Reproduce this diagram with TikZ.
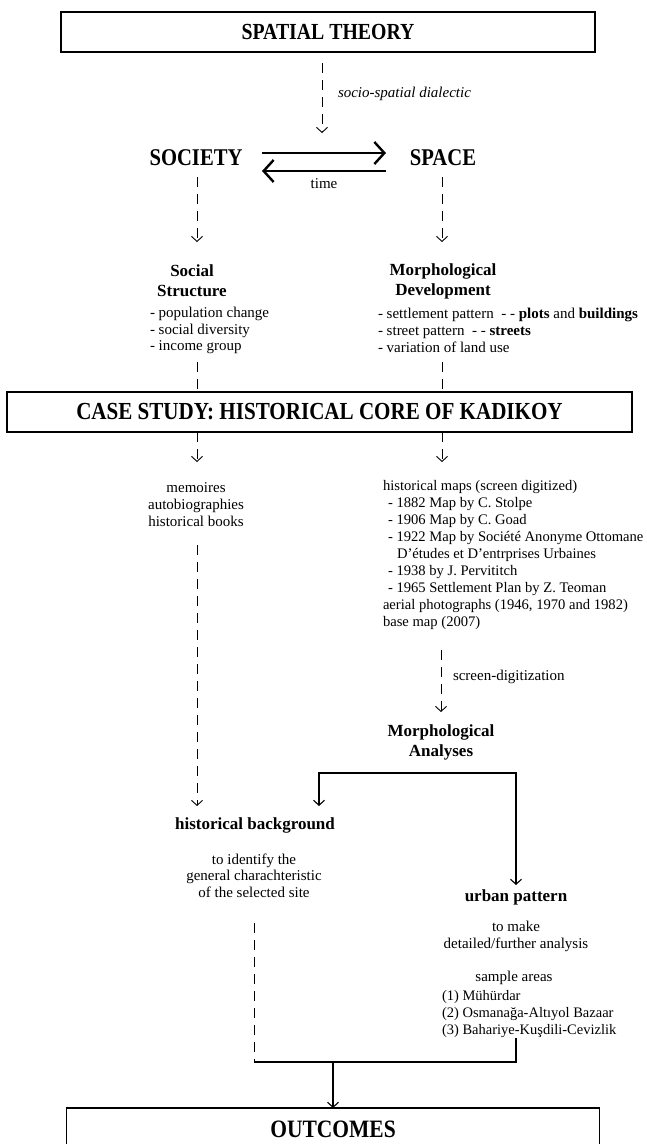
\documentclass[tikz,border=0pt]{standalone}
\usepackage{fontspec}
\setmainfont{Liberation Serif}
\newfontfamily\headfont[FakeStretch=0.86]{Liberation Serif}
\usetikzlibrary{arrows.meta}
\begin{document}
\begin{tikzpicture}[x=1pt,y=-1pt,
  every node/.style={inner sep=0pt, outer sep=0pt},
  big/.style={font=\headfont\bfseries\fontsize{24}{28}\selectfont},
  titlebox/.style={draw, line width=1.6pt, minimum height=40pt, font=\headfont\bfseries\fontsize{23}{28}\selectfont},
  sub/.style={font=\bfseries\fontsize{17}{20}\selectfont, align=center},
  txt/.style={font=\fontsize{15}{16.7}\selectfont},
  dashln/.style={line width=0.9pt, dash pattern=on 10pt off 7pt},
  dasharr/.style={dashln, -{Straight Barb[length=5pt,width=11pt]}},
  solidln/.style={line width=1.1pt},
  solidarr/.style={solidln, -{Straight Barb[length=5pt,width=11pt]}},
  thickarr/.style={line width=2.4pt, -{Straight Barb[length=10pt,width=22pt]}}
]
\useasboundingbox (0,0) rectangle (646,1144);
\clip (0,0) rectangle (646,1144);

% boxes
\node[titlebox, minimum width=534pt] (spatial) at (328,32) {SPATIAL THEORY};
\node[titlebox, minimum width=625pt, font=\headfont\bfseries\fontsize{24.5}{28}\selectfont] (case) at (319.5,412) {CASE STUDY: HISTORICAL CORE OF KADIKOY};
\node[titlebox, minimum width=533pt, minimum height=42pt, font=\headfont\bfseries\fontsize{25}{28}\selectfont] (outcomes) at (333,1129) {OUTCOMES};

% top level
\node[txt, font=\itshape\fontsize{15}{16.7}\selectfont, anchor=west] (dialectic) at (338,94) {socio-spatial dialectic};
\node[big] (society) at (196,158) {SOCIETY};
\node[big] (space) at (443,158) {SPACE};
\node[txt] (time) at (324,184) {time};

\node[sub] (social) at (192,281) {Social\\Structure};
\node[txt, align=left, anchor=west] (soclist) at (150,330.5) {- population change\\- social diversity\\- income group};
\node[sub] (morph) at (443,281) {Morphological\\Development};
\node[txt, align=left, anchor=west] (morphlist) at (378,330.5) {- settlement pattern\ \ - - \textbf{plots} and \textbf{buildings}\\- street pattern\ \ - - \textbf{streets}\\- variation of land use};

% sources
\node[txt, align=center] (sources) at (196,504.5) {memoires\\autobiographies\\historical books};
\node[txt, align=left, anchor=west, font=\fontsize{14.6}{17}\selectfont] (maps) at (383,555) {historical maps (screen digitized)\\
\hspace*{5pt}- 1882 Map by C. Stolpe\\
\hspace*{5pt}- 1906 Map by C. Goad\\
\hspace*{5pt}- 1922 Map by Société Anonyme Ottomane\\
\hspace*{14pt}D'études et D'entrprises Urbaines\\
\hspace*{5pt}- 1938 by J. Pervititch\\
\hspace*{5pt}- 1965 Settlement Plan by Z. Teoman\\
aerial photographs (1946, 1970 and 1982)\\
base map (2007)};
\node[txt, anchor=west] (digit) at (453,677) {screen-digitization};
\node[sub] (morphan) at (441,742) {Morphological\\Analyses};

% lower
\node[sub] (histbg) at (255,825) {historical background};
\node[txt, align=center] (histtxt) at (254,875.5) {to identify the\\general charachteristic\\of the selected site};
\node[sub] (urban) at (516,897) {urban pattern};
\node[txt, align=center] (urbantxt) at (516,936.5) {to make\\detailed/further analysis};
\node[txt] (sample) at (514,978) {sample areas};
\node[txt, align=left, anchor=west, font=\fontsize{14.5}{16.7}\selectfont] (samplelist) at (442,1014) {(1) Mühürdar\\(2) Osmanağa-Altıyol Bazaar\\(3) Bahariye-Kuşdili-Cevizlik};

% coordinates for free ends
\coordinate (d1s) at (322,63);
\coordinate (d1e) at (322,133);
\coordinate (t1s) at (262,153);
\coordinate (t1e) at (386,153);
\coordinate (t2s) at (386,171);
\coordinate (t2e) at (262,171);
\coordinate (s1s) at (197,177);
\coordinate (s1e) at (197,242);
\coordinate (s2s) at (442,177);
\coordinate (s2e) at (442,242);
\coordinate (c1) at (197,362);
\coordinate (c2) at (442,362);
\coordinate (c3e) at (197,462);
\coordinate (c4e) at (442,462);
\coordinate (l1s) at (197,545);
\coordinate (l1e) at (197,806);
\coordinate (r1s) at (441,650);
\coordinate (r1e) at (441,712);
\coordinate (ba) at (319,806);
\coordinate (bl) at (319,773);
\coordinate (br) at (516,773);
\coordinate (bb) at (516,885);
\coordinate (hd) at (254,923);
\coordinate (jl) at (254,1062);
\coordinate (jr) at (516,1062);
\coordinate (ud) at (516,1038);
\coordinate (jm) at (333,1062);

% connectors
\draw[dasharr] (d1s) -- (d1e);
\draw[thickarr] (t1s) -- (t1e);
\draw[thickarr] (t2s) -- (t2e);
\draw[dasharr] (s1s) -- (s1e);
\draw[dasharr] (s2s) -- (s2e);
\draw[dashln] (c1) -- (case.north -| c1);
\draw[dashln] (c2) -- (case.north -| c2);
\draw[dasharr] (case.south -| c3e) -- (c3e);
\draw[dasharr] (case.south -| c4e) -- (c4e);
\draw[dasharr] (l1s) -- (l1e);
\draw[dasharr] (r1s) -- (r1e);
\draw[solidln, {Straight Barb[length=5pt,width=11pt]}-{Straight Barb[length=5pt,width=11pt]}] (ba) -- (bl) -- (br) -- (bb);
\draw[dashln] (hd) -- (jl);
\draw[solidln] (jl) -- (jr) -- (ud);
\draw[solidarr] (jm) -- (outcomes.north);
\end{tikzpicture}
\end{document}
